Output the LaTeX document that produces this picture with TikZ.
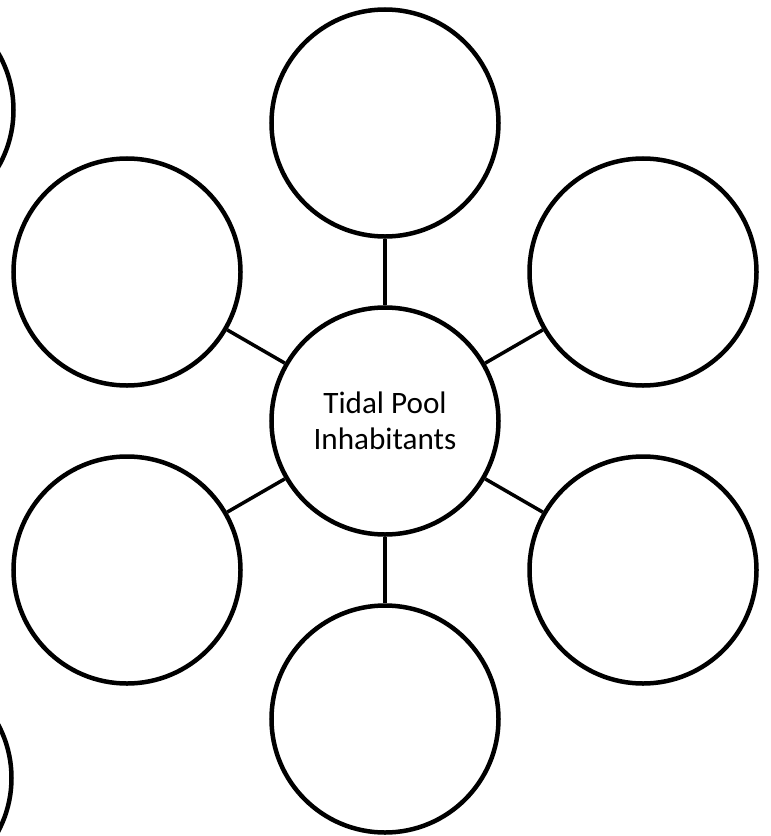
\documentclass[tikz,border=0pt]{standalone}
\usepackage{fontspec}
\setmainfont{Carlito}
\begin{document}
\begin{tikzpicture}[
  x=0.03cm, y=-0.03cm,
  bubble/.style={draw, circle, line width=1.35mm, minimum size=68.1mm, inner sep=0pt},
  hubtext/.style={align=center, font=\fontsize{26.6}{31.2}\selectfont},
  link/.style={line width=1.05mm}
]
\useasboundingbox (0,0) rectangle (770,836);
\node[bubble, hubtext] (hub) at (385,421) {Tidal Pool\\Inhabitants};
\node[bubble] (top) at (385,123) {};
\node[bubble] (bottom) at (385,719) {};
\node[bubble] (upleft) at (127,272) {};
\node[bubble] (lowleft) at (127,570) {};
\node[bubble] (upright) at (643,272) {};
\node[bubble] (lowright) at (643,570) {};
% cut-off circles at the left edge
\node[bubble] (edgeup) at (-100,110) {};
\node[bubble] (edgelow) at (-102,778) {};

\draw[link] (hub) -- (top);
\draw[link] (hub) -- (bottom);
\draw[link] (hub) -- (upleft);
\draw[link] (hub) -- (lowleft);
\draw[link] (hub) -- (upright);
\draw[link] (hub) -- (lowright);
\end{tikzpicture}
\end{document}
